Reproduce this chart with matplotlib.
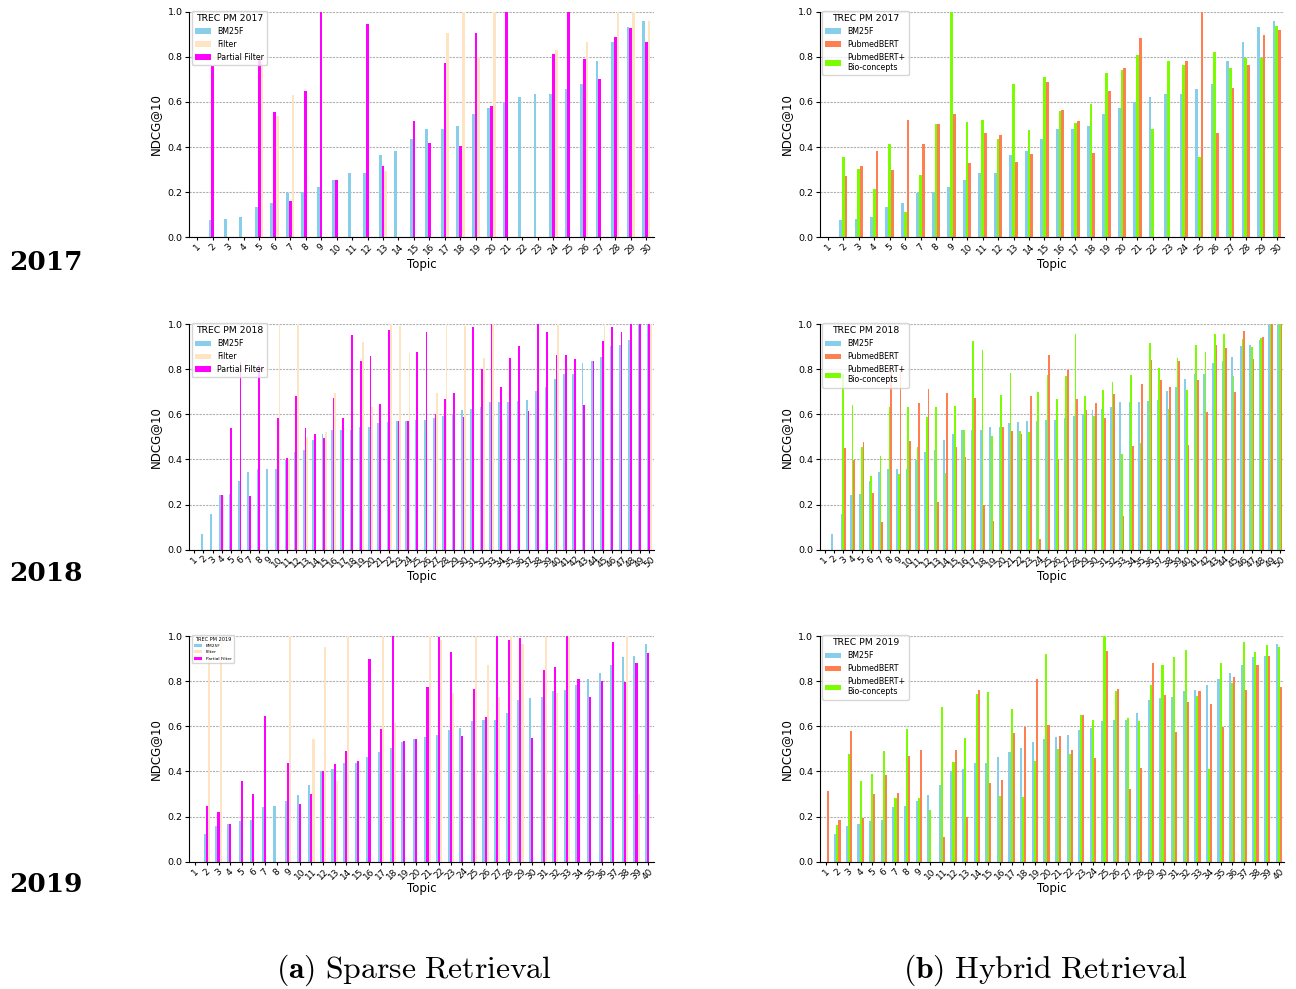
import matplotlib
matplotlib.use('Agg')
import matplotlib.pyplot as plt
import numpy as np

plt.rcParams['font.family'] = ['DejaVu Sans']
plt.rcParams['mathtext.fontset'] = 'cm'

# ---------------- data ----------------
topics_2017 = list(range(1, 31))
topics_2018 = list(range(1, 51))
topics_2019 = list(range(1, 41))

bm25f_2017 = [0, 0.077, 0.081, 0.090, 0.134, 0.152, 0.198, 0.200, 0.223, 0.254,
              0.285, 0.285, 0.365, 0.383, 0.436, 0.480, 0.480, 0.493, 0.547, 0.573,
              0.600, 0.622, 0.635, 0.635, 0.657, 0.679, 0.781, 0.866, 0.932, 0.959]
filter_2017 = [0, 0, 0, 0, 0.78, 0.538, 0.631, 0, 0, 0,
               0, 0, 0.294, 0, 0, 0, 0.905, 1.0, 0.80, 1.0,
               0, 0, 0, 0.83, 0, 0.866, 0, 1.0, 1.0, 0.959]
partial_2017 = [0, 0.759, 0, 0, 0.79, 0.555, 0.161, 0.648, 1.0, 0.254,
                0, 0.945, 0.316, 0, 0.515, 0.418, 0.773, 0.405, 0.905, 0.582,
                1.0, 0, 0, 0.812, 1.0, 0.79, 0.70, 0.888, 0.928, 0.866]
pubmedbert_2017 = [0, 0.272, 0.316, 0.383, 0.298, 0.520, 0.414, 0.502, 0.547, 0.329,
                   0.462, 0.453, 0.334, 0.369, 0.688, 0.564, 0.515, 0.374, 0.648, 0.750,
                   0.883, 0, 0, 0.781, 1.0, 0.462, 0.662, 0.764, 0.897, 0.919]
pubmedbert_bio_2017 = [0, 0.356, 0.303, 0.214, 0.414, 0.112, 0.276, 0.502, 1.0, 0.511,
                       0.520, 0.436, 0.679, 0.476, 0.710, 0.560, 0.507, 0.591, 0.728, 0.741,
                       0.808, 0.480, 0.781, 0.764, 0.356, 0.821, 0.750, 0.795, 0.795, 0.936]

bm25f_2018 = [0, 0.069, 0.158, 0.242, 0.246, 0.304, 0.344, 0.357, 0.357, 0.357,
              0.397, 0.432, 0.441, 0.485, 0.512, 0.530, 0.530, 0.530, 0.543, 0.543,
              0.560, 0.565, 0.569, 0.569, 0.574, 0.574, 0.583, 0.591, 0.600, 0.618,
              0.622, 0.631, 0.653, 0.653, 0.653, 0.658, 0.662, 0.702, 0.720, 0.755,
              0.777, 0.777, 0.826, 0.835, 0.853, 0.901, 0.906, 0.928, 1.0, 1.0]
filter_2018 = [0, 0, 0, 0.242, 0, 0, 0, 0, 0, 1.0,
               0.40, 1.0, 0.50, 0, 0.52, 0.693, 0, 0, 0.919, 0.631,
               0, 1.0, 0.99, 0.87, 0, 0, 0.693, 1.0, 0, 0.99,
               0, 0.848, 1.0, 0.574, 0, 0, 0, 0, 0, 1.0,
               0, 0, 0, 0, 1.0, 0, 0, 0, 0, 1.0]
partial_2018 = [0, 0, 0, 0.242, 0.538, 0.83, 0.237, 0.82, 0, 0.583,
                0.406, 0.680, 0.538, 0.512, 0.494, 0.671, 0.583, 0.950, 0.835, 0.857,
                0.645, 0.976, 0.569, 0.569, 0.875, 0.963, 0.600, 0.667, 0.693, 0.587,
                0.985, 0.800, 1.0, 0.720, 0.848, 0.901, 0.614, 1.0, 0.963, 0.861,
                0.861, 0.844, 0.640, 0.835, 0.923, 0.985, 0.963, 1.0, 1.0, 1.0]
pubmedbert_2018 = [0, 0, 0.45, 0.397, 0.476, 0.251, 0.122, 0.80, 0.80, 0.481,
                   0.649, 0.711, 0.211, 0.693, 0.454, 0.410, 0.671, 0.198, 0.127, 0.543,
                   0.525, 0.512, 0.680, 0.047, 0.861, 0.401, 0.795, 0.667, 0.618, 0.649,
                   0.583, 0.689, 0.149, 0.459, 0.733, 0.839, 0.751, 0.720, 0.835, 0.463,
                   0.751, 0.609, 0.906, 0.892, 0.698, 0.968, 0.844, 0.945, 1.0, 1.0]
pubmedbert_bio_2018 = [0, 0, 0.78, 0.640, 0.454, 0.326, 0.414, 0.631, 0.335, 0.631,
                       0.454, 0.587, 0.631, 0.339, 0.636, 0.530, 0.923, 0.883, 0.503, 0.684,
                       0.782, 0.525, 0.520, 0.698, 0.773, 0.667, 0.768, 0.954, 0.680, 0.591,
                       0.706, 0.742, 0.423, 0.773, 0.472, 0.914, 0.804, 0.622, 0.848, 0.706,
                       0.906, 0.875, 0.954, 0.954, 0.768, 0.932, 0.897, 0.937, 1.0, 1.0]

bm25f_2019 = [0, 0.122, 0.158, 0.167, 0.180, 0.184, 0.242, 0.246, 0.268, 0.295,
              0.339, 0.401, 0.410, 0.437, 0.437, 0.463, 0.485, 0.503, 0.530, 0.543,
              0.552, 0.560, 0.583, 0.591, 0.622, 0.627, 0.627, 0.658, 0.715, 0.724,
              0.729, 0.755, 0.760, 0.782, 0.808, 0.835, 0.870, 0.906, 0.914, 0.963]
filter_2019 = [0, 1.0, 1.0, 0, 0, 0, 0, 0, 1.0, 0,
               0.543, 0.950, 0.357, 1.0, 0, 0, 1.0, 0.614, 0, 0,
               1.0, 0.985, 0.750, 0, 1.0, 0.870, 0.729, 1.0, 0.963, 0,
               0.994, 0.750, 1.0, 0, 0, 0, 0, 1.0, 0.300, 0]
partial_2019 = [0, 0.246, 0.220, 0.167, 0.357, 0.299, 0.645, 0, 0.437, 0.255,
                0.299, 0.401, 0.432, 0.490, 0.445, 0.897, 0.587, 1.0, 0.534, 0.543,
                0.773, 0.998, 0.928, 0.556, 0.764, 0.640, 1.0, 0.981, 0.990, 0.547,
                0.848, 0.861, 1.0, 0.808, 0.729, 0.800, 0.976, 0.795, 0.883, 0.923]
pubmedbert_2019 = [0.313, 0.184, 0.578, 0.193, 0.299, 0.383, 0.304, 0.468, 0.494, 0,
                   0.109, 0.494, 0.198, 0.760, 0.348, 0.361, 0.569, 0.596, 0.808, 0.605,
                   0.556, 0.494, 0.649, 0.459, 0.932, 0.764, 0.322, 0.414, 0.883, 0.737,
                   0.574, 0.706, 0.755, 0.698, 0.596, 0.817, 0.760, 0.870, 0.914, 0.773]
pubmedbert_bio_2019 = [0, 0.162, 0.476, 0.357, 0.388, 0.490, 0.282, 0.587, 0.282, 0.229,
                       0.684, 0.441, 0.547, 0.742, 0.751, 0.291, 0.676, 0.286, 0.445, 0.919,
                       0.499, 0.476, 0.649, 0.627, 1.0, 0.755, 0.636, 0.622, 0.782, 0.870,
                       0.906, 0.937, 0.733, 0.410, 0.883, 0.791, 0.976, 0.928, 0.959, 0.954]

sparse_labels = ['BM25F', 'Filter', 'Partial Filter']
hybrid_labels = ['BM25F', 'PubmedBERT', 'PubmedBERT+\nBio-concepts']
years = ['2017', '2018', '2019']

C_BM25 = '#87CEEB'
C_FILTER = '#FFE4C4'
C_PARTIAL = '#FF00FF'
C_PUBMED = '#FF7F50'
C_BIO = '#7CFC00'

# ---------------- figure ----------------
fig = plt.figure(figsize=(12.96, 9.89), dpi=100)

W = 0.18
row_bottoms = [0.7601, 0.4442, 0.1287]
row_h = 0.2281
col_lefts = [0.1462, 0.6327]
col_w = 0.3584


def style_axis(ax, topics, title, leg_fs, title_fs):
    ax.set_xlim(0.5, len(topics) + 0.5)
    ax.set_ylim(0, 1.0)
    ax.set_xticks(topics)
    ax.set_xticklabels([str(t) for t in topics])
    ax.set_yticks([0.0, 0.2, 0.4, 0.6, 0.8, 1.0])
    ax.tick_params(axis='x', labelrotation=45, labelsize=6.5, length=2.5, pad=1)
    ax.tick_params(axis='y', labelsize=6.8, length=3, pad=2)
    ax.spines['top'].set_visible(False)
    ax.spines['right'].set_visible(False)
    ax.set_axisbelow(True)
    ax.yaxis.grid(True, linestyle=(0, (2, 1)), color='#b0b0b0', linewidth=0.8)
    ax.set_ylabel('NDCG@10', fontsize=8.5, labelpad=4)
    ax.set_xlabel('Topic', fontsize=8.5, labelpad=1)
    leg = ax.legend(title=title, loc='upper left', bbox_to_anchor=(0.005, 1.005),
                    borderaxespad=0, fontsize=leg_fs, title_fontsize=title_fs,
                    framealpha=0.8, edgecolor='#cccccc', fancybox=True)
    return leg


sparse_data = [
    (topics_2017, bm25f_2017, filter_2017, partial_2017),
    (topics_2018, bm25f_2018, filter_2018, partial_2018),
    (topics_2019, bm25f_2019, filter_2019, partial_2019),
]
hybrid_data = [
    (topics_2017, bm25f_2017, pubmedbert_2017, pubmedbert_bio_2017),
    (topics_2018, bm25f_2018, pubmedbert_2018, pubmedbert_bio_2018),
    (topics_2019, bm25f_2019, pubmedbert_2019, pubmedbert_bio_2019),
]

for r in range(3):
    # sparse retrieval
    topics, b, f, p = sparse_data[r]
    x = np.array(topics)
    ax = fig.add_axes([col_lefts[0], row_bottoms[r], col_w, row_h])
    ax.bar(x - W, b, W, color=C_BM25, label=sparse_labels[0])
    ax.bar(x + W, f, W, color=C_FILTER, label=sparse_labels[1])
    ax.bar(x, p, W, color=C_PARTIAL, label=sparse_labels[2])
    if r == 2:
        style_axis(ax, topics, 'TREC PM ' + years[r], 3.2, 3.6)
    else:
        style_axis(ax, topics, 'TREC PM ' + years[r], 5.7, 6.7)

    # hybrid retrieval
    topics, b, pm, bio = hybrid_data[r]
    x = np.array(topics)
    ax = fig.add_axes([col_lefts[1], row_bottoms[r], col_w, row_h])
    ax.bar(x - W, b, W, color=C_BM25, label=hybrid_labels[0])
    ax.bar(x + W, pm, W, color=C_PUBMED, label=hybrid_labels[1])
    ax.bar(x, bio, W, color=C_BIO, label=hybrid_labels[2])
    style_axis(ax, topics, 'TREC PM ' + years[r], 5.7, 6.7)

    # row label
    fig.text(46 / 1296, 1 - (262 + r * 311.5) / 989, years[r],
             fontsize=19, ha='center', va='center', family='DejaVu Serif',
             fontweight='bold')

fig.text(414 / 1296, 1 - 970 / 989, r'$(\mathbf{a})\ \mathrm{Sparse\ Retrieval}$',
         fontsize=22.8, ha='center', va='center')
fig.text(1045 / 1296, 1 - 970 / 989, r'$(\mathbf{b})\ \mathrm{Hybrid\ Retrieval}$',
         fontsize=22.8, ha='center', va='center')

fig.savefig('out.png', dpi=100)
